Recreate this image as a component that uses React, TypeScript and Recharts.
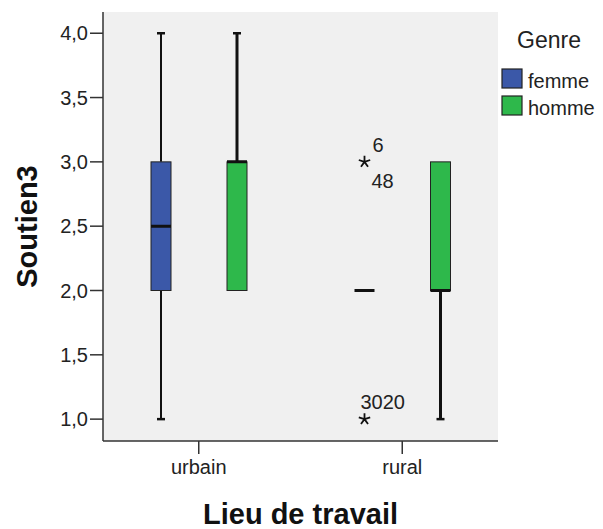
import React from 'react';
import { ComposedChart, Bar, XAxis, YAxis, CartesianGrid, Label } from 'recharts';

const categories = ['urbain', 'rural'];

const femmeMin = [1, 2];
const femmeQ1 = [2, 2];
const femmeMedian = [2.5, 2];
const femmeQ3 = [3, 2];
const femmeMax = [4, 2];
const femmeOutliers = [
  [],
  [
    { value: 3, above: ['6'], below: ['48'] },
    { value: 1, above: ['30', '20'], below: [] },
  ],
];

const hommeMin = [2, 1];
const hommeQ1 = [2, 2];
const hommeMedian = [3, 2];
const hommeQ3 = [3, 3];
const hommeMax = [4, 3];
const hommeOutliers: any[] = [[], []];

const yTicks = [1, 1.5, 2, 2.5, 3, 3.5, 4];
const Y_MIN = 0.83;
const Y_MAX = 4.165;

const seriesNames = ['femme', 'homme'];
const seriesColors = ['#3b58a8', '#2eb84b'];

const data = categories.map((c, i) => ({
  cat: c,
  femmeSpan: [Y_MIN, Y_MAX],
  hommeSpan: [Y_MIN, Y_MAX],
  femme: { min: femmeMin[i], q1: femmeQ1[i], med: femmeMedian[i], q3: femmeQ3[i], max: femmeMax[i], outliers: femmeOutliers[i] },
  homme: { min: hommeMin[i], q1: hommeQ1[i], med: hommeMedian[i], q3: hommeQ3[i], max: hommeMax[i], outliers: hommeOutliers[i] },
}));

const FONT = '"Liberation Sans", Arial, sans-serif';

const Star = ({ cx, cy }: { cx: number; cy: number }) => {
  const r = 6;
  const d = [0, 1, 2, 3, 4]
    .map((k) => {
      const a = (-90 + k * 72) * (Math.PI / 180);
      return `M${cx},${cy}L${cx + r * Math.cos(a)},${cy + r * Math.sin(a)}`;
    })
    .join('');
  return <path d={d} stroke="#111" strokeWidth={1.8} fill="none" />;
};

const makeBoxShape = (key: string, fill: string, whiskerW: number) => (props: any) => {
  const { x, y, width, height, payload } = props;
  const s = payload[key];
  const top = Math.min(y, y + height);
  const h = Math.abs(height);
  const yOf = (v: number) => top + ((Y_MAX - v) / (Y_MAX - Y_MIN)) * h;
  const cx = x + width / 2;
  const bw = 20;
  const capW = 8;
  const els: any[] = [];
  if (s.max > s.q3) {
    els.push(<line key="wu" x1={cx} x2={cx} y1={yOf(s.max)} y2={yOf(s.q3)} stroke="#111" strokeWidth={whiskerW} />);
    els.push(<line key="cu" x1={cx - capW / 2} x2={cx + capW / 2} y1={yOf(s.max)} y2={yOf(s.max)} stroke="#111" strokeWidth={2.5} />);
  }
  if (s.min < s.q1) {
    els.push(<line key="wl" x1={cx} x2={cx} y1={yOf(s.q1)} y2={yOf(s.min)} stroke="#111" strokeWidth={whiskerW} />);
    els.push(<line key="cl" x1={cx - capW / 2} x2={cx + capW / 2} y1={yOf(s.min)} y2={yOf(s.min)} stroke="#111" strokeWidth={2.5} />);
  }
  if (s.q3 > s.q1) {
    els.push(
      <rect key="box" x={cx - bw / 2} y={yOf(s.q3)} width={bw} height={yOf(s.q1) - yOf(s.q3)} fill={fill} stroke="#222" strokeWidth={1} />
    );
  }
  els.push(
    <line key="med" x1={cx - bw / 2} x2={cx + bw / 2} y1={yOf(s.med)} y2={yOf(s.med)} stroke="#111" strokeWidth={3} />
  );
  (s.outliers || []).forEach((o: any, i: number) => {
    const oy = yOf(o.value);
    els.push(<Star key={`s${i}`} cx={cx} cy={oy} />);
    const above = o.above.join('');
    const below = o.below.join('');
    if (above)
      els.push(
        <text key={`a${i}`} x={cx + 8 - (above.length - 1) * 4} y={oy - 10} fontSize={20} fontFamily={FONT} fill="#222">
          {above}
        </text>
      );
    if (below)
      els.push(
        <text key={`b${i}`} x={cx + 7} y={oy + 26} fontSize={20} fontFamily={FONT} fill="#222">
          {below}
        </text>
      );
  });
  return <g>{els}</g>;
};

const fmt = (v: number) => v.toFixed(1).replace('.', ',');

const XTitle = (p: any) => {
  const vb = p.viewBox || { x: 103, y: 441, width: 395, height: 88 };
  return (
    <text x={vb.x + vb.width / 2} y={vb.y + 83} textAnchor="middle" fontSize={29} fontWeight="bold" fontFamily={FONT} fill="#111">
      Lieu de travail
    </text>
  );
};

const YTitle = (p: any) => {
  const vb = p.viewBox || { x: 10, y: 12, width: 93, height: 429 };
  const tx = vb.x + 27;
  const ty = vb.y + vb.height / 2;
  return (
    <text x={tx} y={ty} transform={`rotate(-90, ${tx}, ${ty})`} textAnchor="middle" fontSize={29} fontWeight="bold" fontFamily={FONT} fill="#111">
      Soutien3
    </text>
  );
};

export default function App() {
  return (
    <div style={{ position: 'absolute', left: 0, top: 0, width: 603, height: 529, background: '#fff' }}>
      <ComposedChart width={603} height={529} data={data} margin={{ top: 12, right: 105, left: 10, bottom: 0 }} barGap={0}>
        <CartesianGrid fill="#f0f0f0" horizontal={false} vertical={false} />
        <XAxis
          dataKey="cat"
          height={88}
          padding={{ left: -6, right: -6 }}
          tickSize={13}
          tickMargin={6}
          tick={{ fontSize: 20, fontFamily: FONT, fill: '#222' }}
          tickLine={{ stroke: '#333', strokeWidth: 1.5 }}
          axisLine={{ stroke: '#333', strokeWidth: 1.5 }}
        >
          <Label content={<XTitle />} />
        </XAxis>
        <XAxis xAxisId="top" orientation="top" dataKey="cat" height={0} tick={false} tickLine={false} axisLine={{ stroke: '#444', strokeWidth: 1.5 }} />
        <YAxis
          type="number"
          domain={[Y_MIN, Y_MAX]}
          ticks={yTicks}
          tickFormatter={fmt}
          width={93}
          tickSize={13}
          tickMargin={2}
          interval={0}
          allowDataOverflow
          tick={{ fontSize: 20, fontFamily: FONT, fill: '#222' }}
          tickLine={{ stroke: '#333', strokeWidth: 1.5 }}
          axisLine={{ stroke: '#333', strokeWidth: 1.5 }}
        >
          <Label content={<YTitle />} />
        </YAxis>
        <YAxis yAxisId="right" orientation="right" width={0} domain={[Y_MIN, Y_MAX]} tick={false} tickLine={false} axisLine={{ stroke: '#444', strokeWidth: 1.5 }} />
        {seriesNames.map((name, i) => (
          <Bar
            key={name}
            dataKey={`${name}Span`}
            name={name}
            barSize={76}
            isAnimationActive={false}
            shape={makeBoxShape(name, seriesColors[i], i === 0 ? 2 : 3)}
          />
        ))}
      </ComposedChart>
      <svg width={603} height={529} style={{ position: 'absolute', left: 0, top: 0, pointerEvents: 'none' }}>
        <text x={517} y={48} fontSize={23} fontFamily={FONT} fill="#222">Genre</text>
        {seriesNames.map((name, i) => (
          <g key={name}>
            <rect x={502} y={69 + i * 27} width={20} height={19} fill={seriesColors[i]} stroke="#222" strokeWidth={1.2} />
            <text x={528} y={88 + i * 26.5} fontSize={20} fontFamily={FONT} fill="#222">{name}</text>
          </g>
        ))}
      </svg>
    </div>
  );
}
